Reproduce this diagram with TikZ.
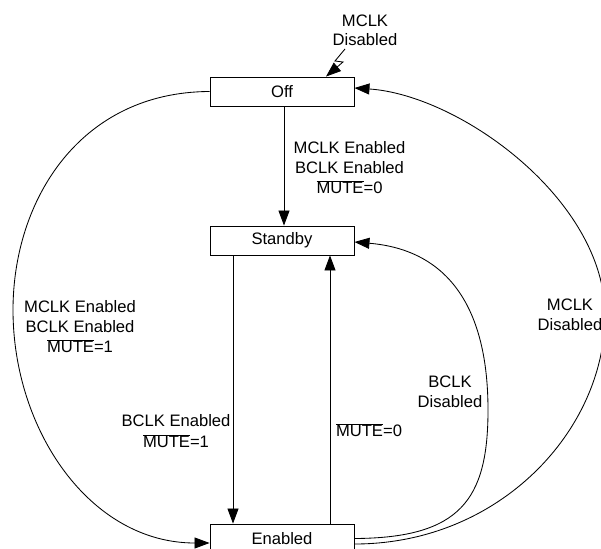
\documentclass[tikz,border=0pt]{standalone}
\usepackage{fontspec}
\setmainfont{Liberation Sans}
\usetikzlibrary{arrows.meta}
\newcommand\ovl[1]{$\overline{\hbox{#1}}$}
\tikzset{
  state/.style={draw, line width=0.9pt, minimum width=144pt, minimum height=29pt, inner sep=0pt, fill=white},
  lbl/.style={align=center, inner sep=0pt},
  arr/.style={line width=0.85pt, -{Triangle[length=15pt,width=11pt]}},
  every node/.style={font=\fontsize{16.6}{20}\selectfont}
}
\begin{document}
\begin{tikzpicture}[x=1pt,y=-1pt]
\clip (0,0) rectangle (601,548);
\fill[white] (0,0) rectangle (601,548);
\node[state] (off) at (282,91.5) {Off};
\node[state] (standby) at (282,240.5) {Standby};
\node[state] (enabled) at (282,538.5) {Enabled};

% vertical transitions
\draw[arr] ([xshift=2pt]off.south) -- ([xshift=2pt]standby.north);
\draw[arr] ([xshift=-49pt]standby.south) -- ([xshift=-49pt]enabled.north);
\draw[arr] ([xshift=48pt]enabled.north) -- ([xshift=48pt]standby.south);

% left big arc Off -> Enabled
\coordinate (lmid) at (13,310);
\draw[arr] (off.west) .. controls (80,92) and (13,200) .. (lmid)
  .. controls (13,430) and (90,543) .. ([yshift=-4.5pt]enabled.west);

% inner right arc Enabled -> Standby
\coordinate (rmid) at (488,410);
\draw[arr] (enabled.east) .. controls (460,538) and (488,500) .. (rmid)
  .. controls (488,310) and (450,250) .. ([yshift=-1.5pt]standby.east);

% outer right arc Enabled -> Off
\coordinate (omid) at (605,315);
\draw[arr] ([yshift=-5.5pt]enabled.east) .. controls (500,544) and (605,430) .. (omid)
  .. controls (605,200) and (460,95) .. ([yshift=3.5pt]off.east);

% lightning arrow
\coordinate (lt) at (345,49);
\draw[arr] (lt) -- (335,61) -- (343,62) -- ([xshift=44pt]off.north);

% labels
\node[lbl] (l0) at (365,30) {MCLK\\[-1pt]Disabled};
\node[lbl] (l1) at (349.5,168) {MCLK Enabled\\BCLK Enabled\\\ovl{MUTE}=0};
\node[lbl] (l2) at (80,327) {MCLK Enabled\\BCLK Enabled\\\ovl{MUTE}=1};
\node[lbl] (l3) at (176,431.5) {BCLK Enabled\\[1pt]\ovl{MUTE}=1};
\node[lbl] (l4) at (369,430) {\ovl{MUTE}=0};
\node[lbl] (l5) at (450,392) {BCLK\\Disabled};
\node[lbl] (l6) at (570,315) {MCLK\\Disabled};
\end{tikzpicture}
\end{document}
